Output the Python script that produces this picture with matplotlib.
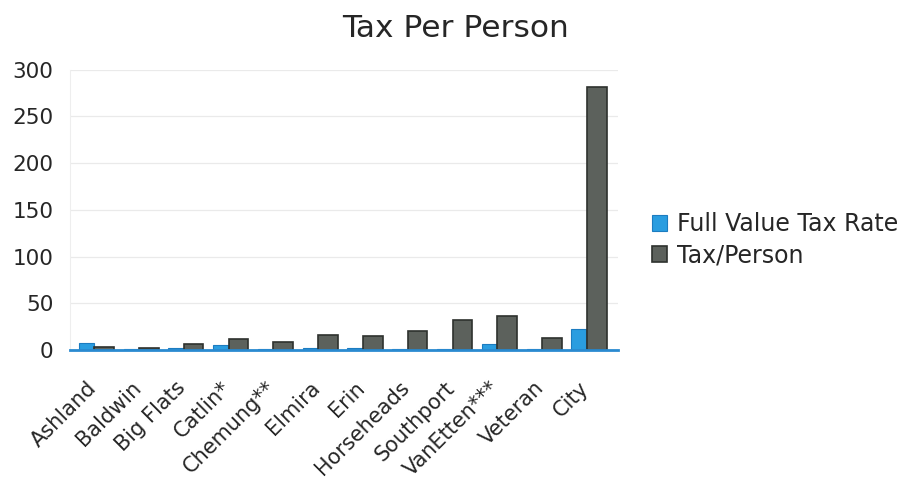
import matplotlib
matplotlib.use("Agg")
import matplotlib.pyplot as plt
import matplotlib.transforms as mtransforms
import numpy as np

plt.rcParams['font.family'] = ['DejaVu Sans']

categories = ["Ashland", "Baldwin", "Big Flats", "Catlin*", "Chemung**", "Elmira",
              "Erin", "Horseheads", "Southport", "VanEtten***", "Veteran", "City"]
full_value_tax_rate = [7, 1, 2, 5, 1, 2, 2, 1, 1, 6, 1, 22]
tax_per_person = [3, 2, 6, 12, 9, 16, 15, 20, 32, 36, 13, 281]
yticks = [0, 50, 100, 150, 200, 250, 300]

fig = plt.figure(figsize=(9.01, 4.79), dpi=100)
ax = fig.add_axes([0.0777, 0.2693, 0.608, 0.5856])

x = np.arange(len(categories))
ax.bar(x - 0.22, full_value_tax_rate, width=0.33, color='#2a9de0', edgecolor='#1c7cc0',
       linewidth=0.8, label='Full Value Tax Rate', zorder=3)
ax.bar(x + 0.18, tax_per_person, width=0.44, color='#5c615c', edgecolor='#2e312e',
       linewidth=1.2, label='Tax/Person', zorder=3)

ax.set_ylim(0, 300)
ax.set_xlim(-0.58, 11.65)
ax.set_yticks(yticks)
ax.set_yticklabels([str(v) for v in yticks], fontsize=15.5, color='#262626')
ax.set_xticks(x)
ax.set_xticklabels(categories, rotation=45, ha='right', va='center',
                   rotation_mode='anchor', fontsize=15, color='#262626')
ax.tick_params(axis='x', length=0, pad=25)
ax.tick_params(axis='y', length=0, pad=12)
shift = mtransforms.ScaledTranslation(-0.03, 0, fig.dpi_scale_trans)
for lbl in ax.get_xticklabels():
    lbl.set_transform(lbl.get_transform() + shift)
for s in ['top', 'right']:
    ax.spines[s].set_visible(False)
ax.spines['left'].set_color('#eeeeee')
ax.spines['bottom'].set_color('#2a8ad0')
ax.spines['bottom'].set_linewidth(2)
ax.spines['bottom'].set_zorder(4)
ax.grid(axis='y', color='#eaeaea', linewidth=0.9, zorder=0)
ax.set_axisbelow(True)

fig.text(0.5055, 1 - 37 / 479, "Tax Per Person", ha='center', va='baseline',
         fontsize=22.5, color='#262626')

leg = fig.legend(loc='center left', bbox_to_anchor=(652 / 901, 1 - 240 / 479),
                 frameon=False, fontsize=17, handlelength=0.65, handleheight=0.65,
                 handletextpad=0.4, labelspacing=0.3, borderpad=0, borderaxespad=0)
for t in leg.get_texts():
    t.set_color('#262626')

fig.savefig("out.png", dpi=100, facecolor='white')
